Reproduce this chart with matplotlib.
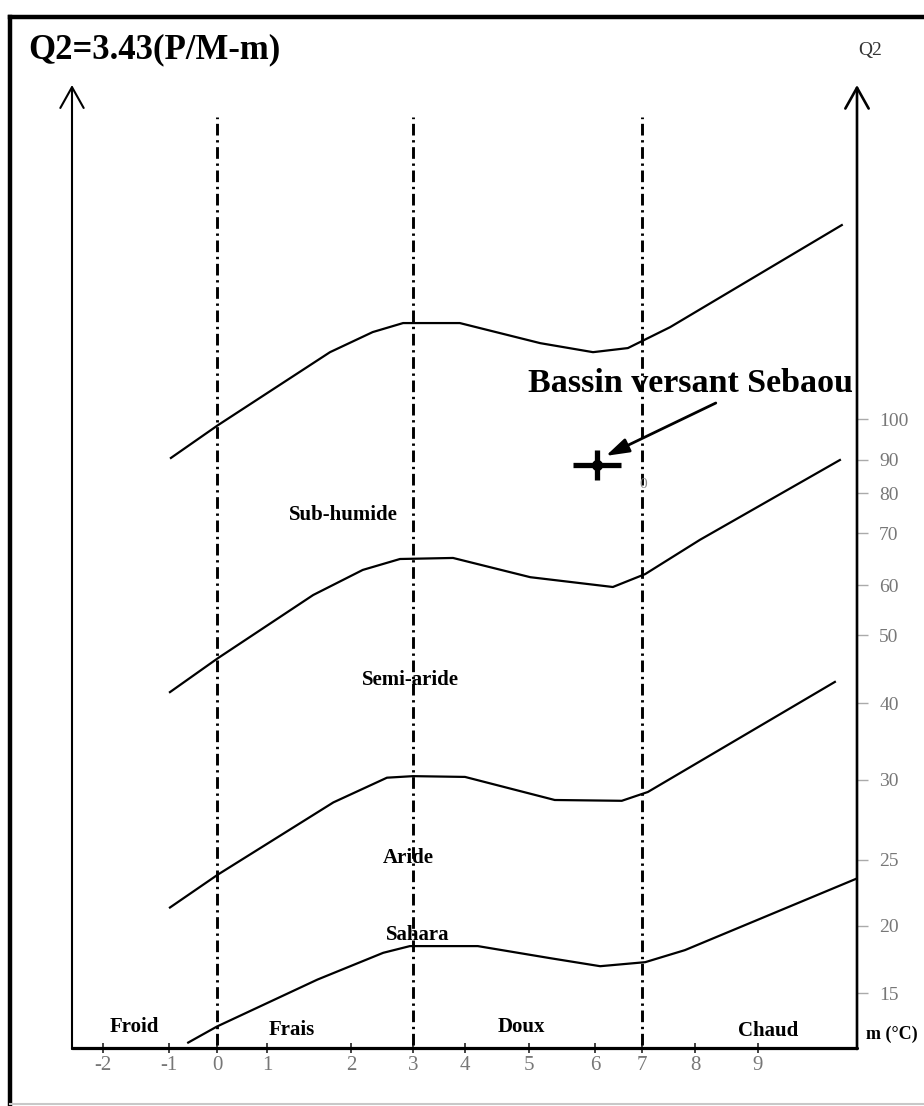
import numpy as np
import matplotlib
matplotlib.use("Agg")
import matplotlib.pyplot as plt
from matplotlib.lines import Line2D

plt.rcParams['font.family'] = ['Liberation Serif', 'DejaVu Serif']

# ---------------- data ----------------
m_ticks = [-2, -1, 0, 1, 2, 3, 4, 5, 6, 7, 8, 9]
m_tick_labels = ['-2', '-1', '0', '1', '2', '3', '4', '5', '6', '7', '8', '9']
q2_ticks = [15, 20, 25, 30, 40, 50, 60, 70, 80, 90, 100]
q2_tick_labels = ['15', '20', '25', '30', '40', '50', '60', '70', '80', '90', '100']
zone_bounds_m = [0, 3, 7]

# limit: sub-humide / humide
c1_m = [-0.96, 0.02, 1.75, 2.35, 2.84, 3.90, 5.17, 5.97, 6.70, 7.53, 10.33]
c1_q = [90.5, 98.5, 116.3, 121.2, 123.4, 123.4, 118.5, 116.3, 117.3, 122.4, 147.3]
# limit: semi-aride / sub-humide
c2_m = [-0.98, 0.02, 1.55, 2.19, 2.79, 3.77, 5.02, 6.38, 7.06, 8.08, 10.30]
c2_q = [41.6, 46.6, 58.0, 62.9, 65.0, 65.2, 61.5, 59.6, 62.1, 68.7, 90.0]
# limit: aride / semi-aride
c3_m = [-0.98, 0.02, 1.79, 2.58, 3.00, 4.00, 5.39, 6.57, 7.11, 10.22]
c3_q = [21.4, 23.9, 28.6, 30.3, 30.5, 30.4, 28.75, 28.7, 29.25, 43.1]
# limit: saharien / aride
c4_m = [-0.60, 0.00, 1.60, 2.52, 2.95, 4.20, 5.32, 6.11, 7.06, 7.81, 10.57]
c4_q = [11.3, 12.5, 16.0, 18.0, 18.5, 18.5, 17.6, 17.0, 17.3, 18.2, 23.6]

station_name = 'Bassin versant Sebaou'
station_m = [6.04]
station_q = [88.5]
arrow_tail_m, arrow_tail_q = 8.33, 103.9
arrow_head_m, arrow_head_q = 6.23, 91.0

# ---------------- layout (pixels) ----------------
W, H = 924, 1106
X_TICK_PX = [103, 169, 217, 267, 351, 413, 465, 529, 595, 642, 695, 758]
Y_TICK_PX = [993, 926, 860, 780, 703, 635, 585, 533, 493, 460, 419]
AX_L, AX_R, AX_B, AX_T = 72, 857, 1048, 85


def piecewise(src, dst):
    src = np.asarray(src, float)
    dst = np.asarray(dst, float)
    s0 = (dst[1] - dst[0]) / (src[1] - src[0])
    s1 = (dst[-1] - dst[-2]) / (src[-1] - src[-2])

    def f(v):
        v = np.asarray(v, float)
        out = np.interp(v, src, dst)
        out = np.where(v < src[0], dst[0] + (v - src[0]) * s0, out)
        out = np.where(v > src[-1], dst[-1] + (v - src[-1]) * s1, out)
        return out
    return f


y_height = [H - p for p in Y_TICK_PX]
xf, xi = piecewise(m_ticks, X_TICK_PX), piecewise(X_TICK_PX, m_ticks)
yf, yi = piecewise(q2_ticks, y_height), piecewise(y_height, q2_ticks)


def fx(px):
    return px / W


def fy(py):
    return 1 - py / H


fig = plt.figure(figsize=(W / 100, H / 100), dpi=100)
ax = fig.add_axes([fx(AX_L), fy(AX_B), (AX_R - AX_L) / W, (AX_B - AX_T) / H])
ax.set_xscale('function', functions=(xf, xi))
ax.set_yscale('function', functions=(yf, yi))
ax.set_xlim(float(xi(AX_L)), float(xi(AX_R)))
ax.set_ylim(float(yi(H - AX_B)), float(yi(H - AX_T)))
ax.patch.set_alpha(0)

for s in ['top', 'left', 'right']:
    ax.spines[s].set_visible(False)
ax.spines['bottom'].set_linewidth(2.3)
ax.spines['bottom'].set_capstyle('round')

ax.set_xticks(m_ticks)
ax.set_xticklabels(m_tick_labels)
ax.xaxis.set_minor_locator(matplotlib.ticker.NullLocator())
ax.tick_params(axis='x', direction='inout', length=7, width=1.3, color='#333333',
               pad=2, labelsize=15, labelcolor='#777777')
ax.yaxis.tick_right()
ax.set_yticks(q2_ticks)
ax.set_yticklabels(q2_tick_labels)
ax.yaxis.set_minor_locator(matplotlib.ticker.NullLocator())
ax.tick_params(axis='y', direction='out', length=8, width=1.0, color='#aaaaaa',
               pad=8, labelsize=14, labelcolor='#777777')

# zone boundaries (dash-dot)
for m in zone_bounds_m:
    ax.axvline(m, ymin=(AX_B - 1045) / (AX_B - AX_T), ymax=(AX_B - 117) / (AX_B - AX_T),
               color='black', lw=2.1, linestyle=(0, (4, 1.6, 0.8, 1.6)))

# climate limits
for cm, cq in [(c1_m, c1_q), (c2_m, c2_q), (c3_m, c3_q), (c4_m, c4_q)]:
    ax.plot(cm, cq, color='black', lw=1.6, solid_joinstyle='round')

# station marker
ax.plot(station_m, station_q, marker='_', markersize=35, mew=3.8, color='black', ls='none')
ax.plot(station_m, station_q, marker='|', markersize=21, mew=3.8, color='black', ls='none')
ax.plot(station_m, station_q, marker='o', markersize=7, color='black', ls='none')
ax.annotate('', xy=(arrow_head_m, arrow_head_q), xytext=(arrow_tail_m, arrow_tail_q),
            arrowprops=dict(arrowstyle='-|>,head_length=0.7,head_width=0.22',
                            mutation_scale=20, lw=2.0, color='black',
                            shrinkA=0, shrinkB=0))

# vertical axes with open arrow heads
for x, lw in [(AX_L, 1.5), (AX_R, 1.9)]:
    fig.add_artist(matplotlib.patches.FancyArrowPatch(
        (fx(x), fy(AX_B + 1)), (fx(x), fy(AX_T)), transform=fig.transFigure,
        arrowstyle='->,head_length=0.75,head_width=0.42', mutation_scale=20,
        lw=lw, color='black', shrinkA=0, shrinkB=0))

# outer frame
fig.add_artist(Line2D([fx(10), fx(W + 5)], [fy(17), fy(17)], color='black', lw=3.2))
fig.add_artist(Line2D([fx(10), fx(10)], [fy(17), fy(1104)], color='black', lw=3.2))
fig.add_artist(Line2D([fx(10), fx(W + 5)], [fy(1104), fy(1104)], color='#c8c8c8', lw=1.5))

# texts
fig.text(fx(28), fy(50), 'Q2=3.43(P/M-m)', fontsize=25, fontweight='bold', va='center', ha='left')
fig.text(fx(858), fy(50), 'Q2', fontsize=14, va='center', ha='left', color='#333333')
fig.text(fx(690), fy(383), station_name, fontsize=24.5, fontweight='bold', va='center', ha='center')
fig.text(fx(643), fy(485), '0', fontsize=11, va='center', ha='center', color='#888888')

zone_labels = [('Sub-humide', 343, 515), ('Semi-aride', 410, 680), ('Aride', 408, 858),
               ('Sahara', 418, 935), ('Froid', 134, 1027), ('Frais', 292, 1030),
               ('Doux', 521, 1027), ('Chaud', 768, 1031)]
for t, px, py in zone_labels:
    fig.text(fx(px), fy(py), t, fontsize=15, fontweight='bold', va='center', ha='center')
fig.text(fx(866), fy(1034), 'm (\u00b0C)', fontsize=13, fontweight='bold', va='center', ha='left')

fig.savefig('out.png', dpi=100)
